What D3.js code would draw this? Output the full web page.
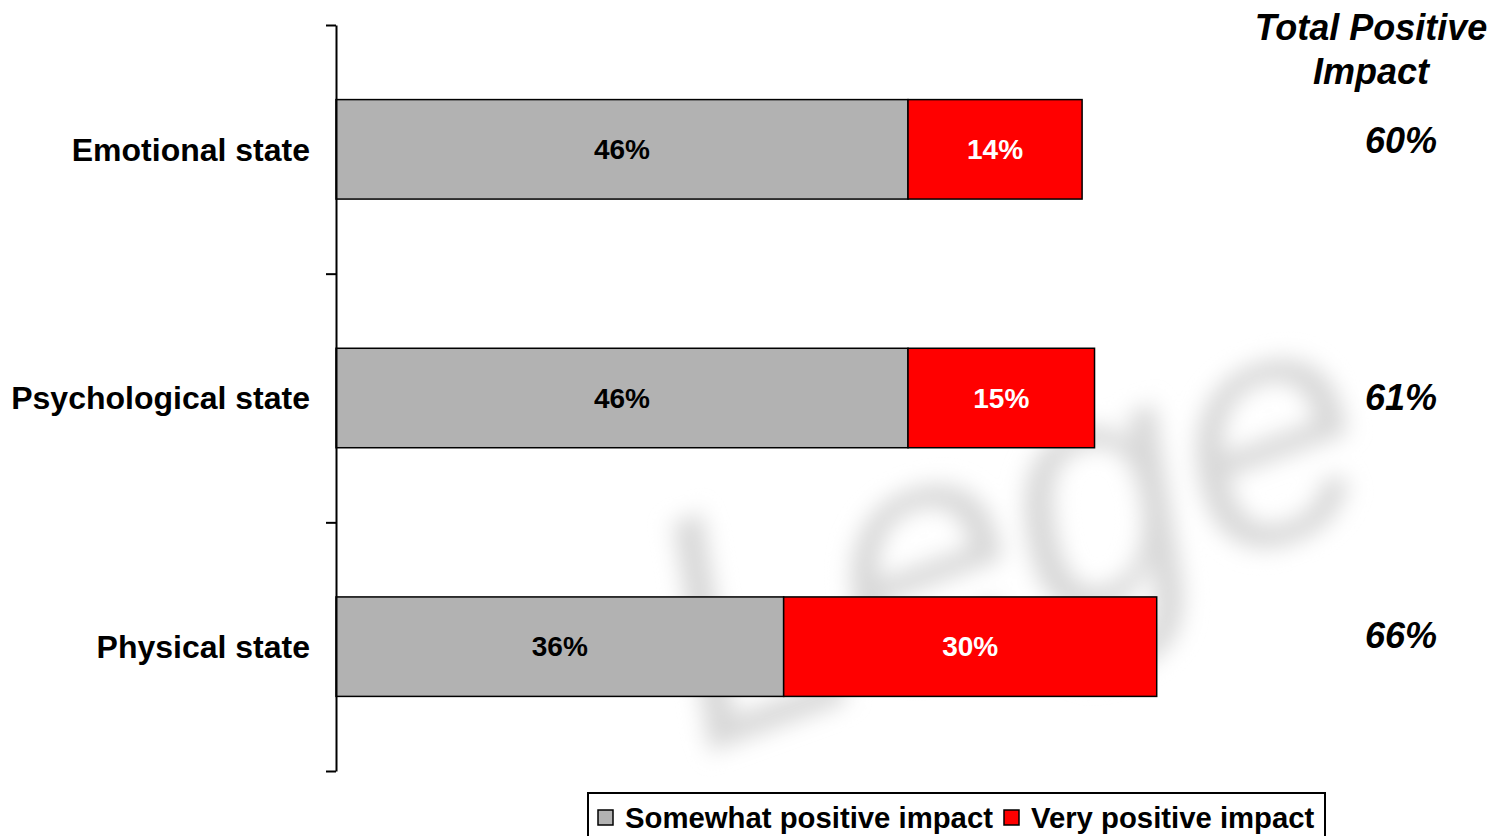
<!DOCTYPE html>
<html><head><meta charset="utf-8">
<script src="https://cdn.jsdelivr.net/npm/d3@7"></script>
<style>html,body{margin:0;padding:0;background:#fff;}svg{display:block;}</style>
</head><body>
<svg id="c" width="1500" height="836"></svg>
<script>
const categories = ["Emotional state", "Psychological state", "Physical state"];
const somewhat = [46, 46, 36];
const very = [14, 15, 30];
const totals = [60, 61, 66];
const seriesNames = ["Somewhat positive impact", "Very positive impact"];
const colors = ["#b2b2b2", "#ff0000"];
const totalHeader = ["Total Positive", "Impact"];

// layout only
const totalDy = [-9, -1, -11];

const svg = d3.select("#c");
const FONT = "'Liberation Sans', Arial, sans-serif";

// watermark
const defs = svg.append("defs");
defs.append("filter").attr("id","blur").attr("x","-20%").attr("y","-20%").attr("width","140%").attr("height","140%")
  .append("feGaussianBlur").attr("stdDeviation", 11);
svg.append("text").text("Lege")
  .attr("transform","translate(700,755) rotate(-20)")
  .attr("font-family", FONT).attr("font-style","italic").attr("font-size", 330)
  .attr("fill","#d8d8d8").attr("filter","url(#blur)");

const x = d3.scaleLinear().domain([0, 100]).range([336, 336 + 1243.5]);
const y = d3.scaleBand().domain(categories).range([25, 771]).paddingInner(0.6).paddingOuter(0.3);
const yt = d3.scaleLinear().domain([0, 3]).range([25, 771]);

const rows = categories.map((c, i) => ({c, a: somewhat[i], b: very[i], t: totals[i]}));

// bars
const g = svg.append("g");
rows.forEach((r, i) => {
  g.append("rect").attr("x", x(0)).attr("y", y(r.c)).attr("width", x(r.a) - x(0)).attr("height", y.bandwidth())
    .attr("fill", colors[0]).attr("stroke", "#000").attr("stroke-width", 1.5);
  g.append("rect").attr("x", x(r.a)).attr("y", y(r.c)).attr("width", x(r.a + r.b) - x(r.a)).attr("height", y.bandwidth())
    .attr("fill", colors[1]).attr("stroke", "#000").attr("stroke-width", 1.5);
  g.append("text").text(r.a + "%").attr("x", (x(0) + x(r.a)) / 2).attr("y", y(r.c) + y.bandwidth() / 2)
    .attr("dy", "0.35em").attr("text-anchor", "middle").attr("font-family", FONT).attr("font-weight", "bold")
    .attr("font-size", 28).attr("fill", "#000");
  g.append("text").text(r.b + "%").attr("x", (x(r.a) + x(r.a + r.b)) / 2).attr("y", y(r.c) + y.bandwidth() / 2)
    .attr("dy", "0.35em").attr("text-anchor", "middle").attr("font-family", FONT).attr("font-weight", "bold")
    .attr("font-size", 28).attr("fill", "#fff");
  g.append("text").text(r.t + "%").attr("x", 1401).attr("y", y(r.c) + y.bandwidth() / 2 + totalDy[i])
    .attr("dy", "0.35em").attr("text-anchor", "middle").attr("font-family", FONT).attr("font-weight", "bold")
    .attr("font-style", "italic").attr("font-size", 36).attr("fill", "#000");
  g.append("text").text(r.c).attr("x", 310).attr("y", y(r.c) + y.bandwidth() / 2)
    .attr("dy", "0.35em").attr("text-anchor", "end").attr("font-family", FONT).attr("font-weight", "bold")
    .attr("font-size", 32).attr("fill", "#000");
});

// axis
const ax = svg.append("g").attr("transform", "translate(336,0)")
  .call(d3.axisLeft(yt).tickValues([0, 1, 2, 3]).tickFormat("").tickSize(10).tickSizeOuter(0));
ax.selectAll("path,line").attr("stroke", "#000").attr("stroke-width", 2);

// header
totalHeader.forEach((t, i) => {
  svg.append("text").text(t).attr("x", 1371).attr("y", 40 + i * 44).attr("text-anchor", "middle")
    .attr("font-family", FONT).attr("font-weight", "bold").attr("font-style", "italic").attr("font-size", 36);
});

// legend
const lg = svg.append("g");
lg.append("rect").attr("x", 588).attr("y", 793).attr("width", 737).attr("height", 60)
  .attr("fill", "#fff").attr("stroke", "#000").attr("stroke-width", 2);
const legX = [598, 1004];
seriesNames.forEach((s, i) => {
  lg.append("rect").attr("x", legX[i]).attr("y", 810).attr("width", 15).attr("height", 15)
    .attr("fill", colors[i]).attr("stroke", "#000").attr("stroke-width", 1.5);
  lg.append("text").text(s).attr("x", legX[i] + 27).attr("y", 828)
    .attr("font-family", FONT).attr("font-weight", "bold").attr("font-size", 29.3).attr("fill", "#000");
});
</script>
</body></html>
